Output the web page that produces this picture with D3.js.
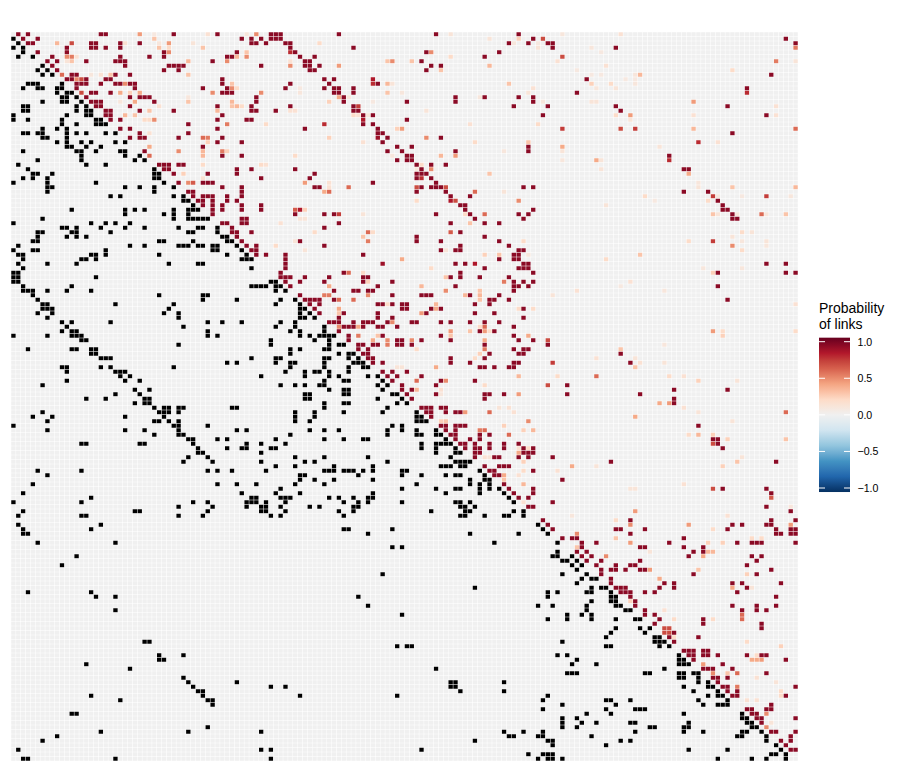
<!DOCTYPE html>
<html>
<head>
<meta charset="utf-8">
<script src="https://cdn.jsdelivr.net/npm/d3@7"></script>
<style>
  html, body { margin: 0; background: #fff; }
  text { font-family: "Liberation Sans", Arial, sans-serif; }
</style>
</head>
<body>
<div id="vis"></div>
<script>
const nodeCount = 162;
const linkProb = 0.95;

// observed links, lower triangle: [row, [columns]]
const linksTopLeft = [[1,[0]],[2,[1]],[3,[0,2]],[4,[2]],[5,[1,4]],[7,[6]],[8,[5,7]],[9,[6,8]],[11,[3,4,5,10]],[12,[2,5,6,9,10]],[13,[9,11,12]],[14,[10,11,13]],[15,[6,10,11,14]],[16,[2,3,13,15]],[17,[2,3,13,15,16]],[18,[0,11,15,16]],[19,[0,3,10,17,18]],[20,[10,13,17,18,19]],[21,[6,9,11]],[22,[2,3,5,6,11,13,15,19,21]],[23,[6,7,11]],[24,[9,11,14,16,21,23]],[25,[11,12,15,18]],[26,[2,13,14,17,22,23]],[27,[14,23,26]],[28,[5,14,25,27]],[29,[1,15,19]],[30,[3,29]],[31,[4,5,8,29,30]],[32,[2,4,7,29,30]],[33,[0,7,17,31]],[34,[7,8,23,26,29,33]],[35,[7,29]],[36,[20,22,33,35]],[37,[35,36]],[38,[37]],[39,[12,23,25,27,33,36,37,38]],[40,[23,31,33,36]],[41,[6,33,36,37,38,39,40]],[42,[0,16,19,21,24]],[43,[10,11,13,18,23,27,34,38,39,42]],[44,[5,6,12,13,20,36,37,42]],[45,[5,11,13,15,43,44]],[46,[4,5,30,31,37,44,45]],[47,[1,24,27,34,35,36,38,39,41,42,46]],[48,[0,4,5,19,41,42,47]],[49,[1,2,16,17,19,30,44,48]],[50,[2,14,15,17,47,48,49]],[51,[1,7,13,32,38,39]],[52,[2,49]],[53,[0,1]]];
const linksMidLeft = [[54,[0,1,17]],[55,[0,1,53]],[56,[2,12,49,50,51,52]],[57,[2,3,4,7,11,16]],[58,[4,30,39,40]],[59,[5,39,46]],[60,[6,7,21,33]],[61,[6,7,8,32]],[62,[5,8,31,34]],[63,[7,34]],[64,[10,12,20,40,43,47]],[65,[11,35]],[66,[10,12,13,40]],[67,[0,7,12,13,14,40,42]],[68,[14,15,53]],[69,[34,53]],[70,[3,12,13,16,17]],[71,[16,17]],[72,[18,19,20,49]],[73,[44,46]],[74,[10,11,18,20,33]],[75,[11,21,22,23]],[76,[22,24,51]],[77,[11,23,26]],[78,[6]],[79,[25,28]],[80,[21,26]],[81,[15,19,27,28]],[82,[25,27,28]],[83,[29,31,32,34,35,45,46]],[84,[6,30,31,32,34]],[85,[4,8,23,31]],[86,[7,29,30,32,34]],[87,[0,33,34,40]],[88,[7,23,27,34,46,48]],[89,[29,34,35]],[90,[36,37,42,44]],[91,[14,15,26,27,37,48,51]],[92,[38,44,47,48,53]],[93,[38,39,51]],[94,[36,40]],[95,[35,41,51]],[97,[5,14,40,42,45,52]],[98,[7]],[100,[4,42,46,50]],[102,[2,47]],[103,[16,49,50]],[104,[0,14,37,40,48,49,50,52]],[105,[34,41,48,51,52]],[106,[2,25,26,40,51,52]],[107,[1,14,15,34,39,53]]];
const linksMidCentre = [[55,[54]],[56,[54,55]],[57,[54,56]],[59,[55,58]],[60,[54,59]],[61,[59,60]],[62,[59,61]],[63,[59,60,62]],[64,[55,58]],[65,[54,58,64]],[66,[57,59,64]],[67,[59,61,63,64,65,66]],[68,[62,65]],[69,[65,67,68]],[70,[57,59,64,65]],[71,[57,67,69,70]],[72,[54,55,64,65,69,71]],[73,[54,57,58,64,70,71,72]],[74,[57,64,69,72,73]],[75,[56,60,62,63,65,69]],[76,[60,65,67,73,75]],[77,[64,68,69,76]],[78,[55,58,60,63,64,75,77]],[79,[65,68,69,76]],[80,[60,61,68,69,78,79]],[81,[60,61,75,80]],[82,[64,68,69,79,81]],[83,[64,77]],[84,[58,62,68,76,83]],[85,[58,62,83,84]],[86,[58,61,83,84,85]],[87,[78,80]],[88,[61,64,67,77,80,83,87]],[89,[57,77,83,84,87,88]],[90,[54,64,68,72,73,89]],[91,[56,84,87,88,89,90]],[92,[54,84,87,91]],[93,[87,91,92]],[94,[58,64,73,90]],[95,[60,62,77,91,92,93,94]],[96,[54,58,66,74,88,89,90,92,93]],[97,[64,65,66,68,69,70,72,74,80,81,96]],[98,[59,60,71,80,84,89,91,92,97]],[99,[59,62,66,74,94,97,98]],[100,[58,64,83,94,96,98]],[101,[55,80,87,91,92,96,98,100]],[102,[54,59,74,89,96,101]],[103,[55,56,57,65,67,70,73,74,102]],[104,[56,68,71,73,80,91,92,94,103]],[105,[55,61,63,70,71,92,93,95]],[106,[56,67,70,86,93,94,103,105]],[107,[55,68,92,93,97,101,102,105]]];
const linksLowLeft = [[109,[1,18]],[110,[2,16]],[111,[2,3]],[113,[5,21]],[116,[13]],[118,[10]],[124,[3,16]],[125,[17,21]],[128,[21]],[135,[27,28]],[138,[30,35]],[139,[30,31]],[140,[15]],[141,[24]],[143,[35]],[144,[36,46]],[145,[37,53]],[146,[38,39]],[147,[16,39]],[148,[22,40,41]],[149,[41]],[151,[12,13]],[154,[40]],[155,[18,36,51]],[156,[9]],[157,[6]],[159,[1,51,53]],[161,[2,3,21,53]]];
const linksLowCentre = [[110,[68,69,78]],[111,[73,94,104]],[113,[99]],[114,[78,80]],[120,[76]],[123,[95]],[125,[71]],[127,[73]],[129,[80]],[136,[79,81,82]],[141,[87]],[144,[90,91,101]],[145,[56,90,91]],[146,[92,101]],[147,[59,79]],[155,[101,105]],[156,[102,103]],[157,[95]],[159,[84]],[160,[106]]];
const linksLowRight = [[109,[108]],[110,[109]],[111,[110]],[113,[112]],[115,[112]],[116,[111,112,115]],[117,[113,114,116]],[118,[115,117]],[119,[116]],[120,[113,118]],[121,[117,119,120]],[122,[116]],[123,[119,121,122]],[124,[110,112,118,119,123]],[125,[110,123,124]],[126,[119,123,124]],[127,[108,111,118,124,125]],[128,[118,126,127]],[129,[114,117,119]],[130,[110,114,119,124,128,129]],[132,[124,129,131]],[133,[123,130]],[134,[122,132,133]],[135,[113,132,133,134]],[136,[122,123,133,135]],[138,[112,114,137]],[139,[116,137,138]],[140,[115,120,137,138,139]],[141,[134]],[142,[114,115,116,130,131,137,138,140,141]],[143,[137,138,141]],[144,[141,143]],[145,[138,143,144]],[146,[140,145]],[147,[110,143,145,146]],[148,[109,122,123,127,141,147]],[149,[113,124,142,145,146,147]],[150,[109,122,128,129,130]],[151,[118,123,138,150]],[152,[113,116,150,151]],[153,[113,117,120,127,128,139,151,152]],[154,[113,116,131,132,138,139,152,153]],[155,[109,128,138,142,150,151,154]],[156,[108,109,119,149,150,155]],[157,[110,111,125,127,155]],[158,[111,122,157]],[159,[139,147,158]],[160,[109,110,111,156,157,159]],[161,[108,110,111,113,145,152,155,159]]];

// estimated probabilities, upper triangle: [row, column, probability]
const probTopLeft = [[0,26,.45],[0,29,.08],[0,40,.15],[0,48,.1],[0,50,.5],[1,29,.3],[2,9,.35],[2,12,.7],[2,23,.15],[2,30,.1],[2,32,.45],[2,37,.12],[3,30,.3],[3,32,.2],[3,39,.3],[4,32,.5],[4,48,.3],[5,11,.5],[5,12,.55],[5,13,.15],[5,48,.5],[5,46,.35],[6,11,.12],[6,12,.3],[6,36,.35],[6,44,.5],[9,10,.6],[9,16,.1],[9,18,.15],[9,20,.3],[9,36,.3],[10,13,.5],[10,14,.7],[11,23,.5],[11,45,.3],[12,45,.5],[12,46,.2],[13,14,.7],[13,22,.4],[13,24,.25],[13,26,.4],[13,41,.5],[13,51,.5],[14,36,.1],[15,25,.4],[15,22,.1],[15,36,.3],[15,45,.35],[16,30,.15],[16,45,.3],[16,46,.35],[16,47,.2],[17,28,.3],[17,42,.35],[18,23,.35],[18,25,.3],[19,27,.2],[19,28,.2],[19,29,.5],[20,44,.55],[20,52,.2],[22,28,.15],[23,39,.6],[23,40,.55],[24,40,.25],[25,28,.4],[26,34,.5],[26,39,.35],[26,43,.55],[26,44,.25],[27,28,.6],[27,39,.35],[29,39,.2],[29,51,.2],[29,52,.15],[31,35,.25],[32,39,.15],[33,36,.5],[33,37,.65]];
const probTopCentre = [[0,90,.12],[1,104,.25],[1,98,.12],[2,63,.2],[2,103,.1],[4,86,.5],[4,57,.8],[5,90,.2],[6,77,.3],[6,78,.5],[6,82,.3],[6,57,.15],[7,57,.5],[7,67,.45],[7,98,.35],[8,88,.3],[10,74,.85],[11,74,.8],[11,77,.35],[11,78,.12],[11,102,.3],[12,59,.08],[12,107,.15],[13,77,.3],[13,80,.1],[13,59,.1],[13,106,.12],[14,67,.4],[14,69,.1],[14,96,.1],[15,65,.25],[15,74,.08],[16,71,.75],[17,57,.15],[17,58,.15],[17,85,.12],[18,70,.2],[18,71,.15],[18,73,.1],[19,72,.85],[20,64,.8],[20,94,.15],[21,79,.25],[21,80,.45],[23,75,.9],[23,65,.25],[23,85,.5],[24,72,.15],[24,95,.2],[24,106,.3],[26,101,.1],[27,58,.2],[27,78,.1],[27,88,.35],[27,91,.45],[29,84,.2],[30,83,.1],[30,86,.5],[31,98,.3],[32,84,.8],[33,60,.45],[33,65,.15],[34,65,.15],[34,69,.6],[34,83,.7],[34,89,.7],[35,64,.4],[35,65,.6],[35,101,.12],[35,95,.6],[37,83,.2],[37,90,.85],[37,91,.7],[37,104,.5],[39,58,.65],[39,59,.85],[39,60,.25],[40,67,.75],[40,72,.12],[40,93,.2],[40,97,.6],[41,59,.12],[41,60,.12],[42,55,.15],[42,94,.3],[44,62,.2],[44,73,.6],[44,74,.2],[44,90,.65],[45,72,.3],[46,58,.12],[46,73,.55],[46,105,.2],[47,54,.2],[48,60,.12],[48,89,.12],[49,97,.25],[49,100,.3],[49,106,.1],[50,80,.4],[51,76,.9],[51,95,.85],[52,86,.2],[53,68,.95],[53,69,.6],[53,72,.2]];
const probTopRight = [[1,109,.7],[5,113,.7],[24,141,.8],[36,144,.75],[36,155,.75],[28,135,.8],[40,154,.6],[46,144,.75],[21,113,.75],[21,125,.7],[21,128,.75],[21,161,.6],[13,151,.8],[3,161,.55],[0,113,.1],[0,125,.15],[2,108,.08],[3,108,.12],[3,119,.1],[4,121,.08],[6,112,.15],[6,157,.55],[6,161,.12],[7,122,.15],[8,148,.2],[8,116,.08],[9,129,.35],[9,128,.1],[9,119,.08],[9,121,.08],[10,128,.08],[10,126,.08],[11,119,.25],[11,123,.2],[11,128,.1],[12,120,.1],[12,124,.12],[15,140,.45],[15,119,.12],[15,120,.12],[15,109,.1],[16,157,.15],[18,124,.2],[18,127,.45],[18,140,.15],[18,157,.15],[19,127,.12],[20,108,.2],[21,140,.35],[25,113,.4],[26,113,.12],[25,133,.12],[24,145,.15],[28,113,.1],[28,120,.4],[28,121,.12],[30,121,.12],[31,139,.4],[33,141,.1],[34,141,.12],[34,148,.3],[34,161,.35],[36,130,.2],[36,145,.08],[36,150,.08],[36,160,.1],[37,143,.2],[37,132,.08],[38,122,.12],[40,144,.3],[40,145,.12],[40,149,.1],[40,159,.3],[40,155,.1],[44,150,.2],[44,152,.12],[45,148,.12],[46,139,.2],[46,150,.1],[46,155,.12],[47,155,.1],[47,148,.5],[48,150,.2],[49,129,.3],[50,122,.2],[52,142,.1],[52,150,.1],[53,144,.25]];
const probMidCentre = [[54,89,.3],[55,73,.25],[55,101,.55],[56,65,.4],[56,84,.35],[57,89,.5],[57,96,.3],[58,64,.55],[58,65,.55],[58,73,.5],[58,93,.35],[58,96,.35],[59,67,.6],[59,70,.6],[59,96,.3],[60,87,.35],[60,77,.2],[61,67,.4],[61,87,.4],[61,104,.2],[61,107,.2],[62,67,.3],[62,84,.45],[64,78,.5],[65,67,.5],[65,71,.4],[65,97,.6],[65,96,.2],[66,90,.45],[66,94,.3],[66,97,.45],[66,98,.2],[67,71,.55],[67,75,.3],[67,90,.3],[67,106,.4],[68,74,.4],[68,77,.5],[68,82,.5],[68,97,.4],[69,77,.55],[70,83,.2],[70,97,.55],[71,96,.25],[72,95,.2],[74,87,.4],[74,79,.12],[74,80,.12],[76,104,.35],[77,89,.5],[77,83,.6],[78,97,.2],[79,83,.35],[79,88,.15],[80,88,.1],[80,104,.45],[83,100,.12],[83,102,.15],[84,93,.45],[84,103,.15],[84,98,.6],[86,89,.3],[86,88,.25],[86,106,.5],[87,101,.25],[88,96,.55],[88,97,.6],[88,105,.25],[88,107,.35],[89,102,.6],[92,104,.15],[92,106,.2],[93,104,.4],[94,97,.15],[94,98,.12],[95,105,.25],[97,105,.2],[98,101,.4],[98,104,.15],[99,101,.3],[100,105,.35],[104,105,.15]];
const probMidRight = [[55,127,.15],[57,116,.15],[57,134,.1],[56,125,.08],[58,111,.12],[60,161,.15],[66,144,.45],[66,146,.2],[66,161,.2],[67,146,.25],[68,110,.7],[69,134,.1],[70,125,.3],[72,128,.12],[72,120,.15],[73,129,.15],[73,134,.12],[73,111,.75],[74,128,.3],[76,120,.6],[76,112,.2],[76,135,.2],[76,138,.15],[77,141,.25],[77,149,.12],[78,110,.7],[82,133,.4],[82,135,.45],[83,138,.15],[84,141,.12],[84,159,.6],[85,128,.4],[86,148,.12],[89,139,.2],[89,141,.35],[89,144,.25],[90,147,.25],[90,159,.3],[91,144,.7],[94,150,.12],[95,149,.3],[96,115,.4],[96,120,.12],[96,146,.25],[97,112,.15],[100,138,.15],[101,144,.7],[101,127,.12],[101,128,.12],[103,156,.65],[105,160,.1],[106,128,.45],[107,115,.1],[107,147,.15]];
const probLowRight = [[108,124,.2],[109,127,.5],[109,139,.45],[109,160,.45],[110,144,.2],[111,116,.5],[112,124,.3],[112,152,.2],[112,154,.2],[113,127,.45],[113,143,.25],[113,146,.25],[114,116,.3],[115,131,.12],[115,143,.35],[115,144,.35],[116,142,.4],[116,122,.5],[119,131,.45],[119,141,.3],[120,151,.25],[121,133,.4],[123,148,.4],[123,152,.12],[126,127,.25],[128,134,.15],[130,136,.2],[130,144,.2],[130,150,.6],[129,150,.6],[133,134,.7],[133,135,.7],[132,134,.7],[132,135,.7],[134,136,.2],[135,151,.2],[136,158,.25],[139,152,.4],[139,153,.4],[139,154,.45],[138,153,.2],[140,142,.45],[142,147,.3],[142,149,.6],[142,144,.5],[143,153,.15],[144,157,.12],[145,149,.55],[146,158,.2],[147,158,.2],[148,153,.15],[148,151,.15],[151,155,.5],[154,155,.5],[153,156,.12]];

const links = [linksTopLeft, linksMidLeft, linksMidCentre, linksLowLeft, linksLowCentre, linksLowRight]
    .flat().flatMap(([row, cols]) => cols.map(col => [row, col]));
const probs = [probTopLeft, probTopCentre, probTopRight, probMidCentre, probMidRight, probLowRight].flat();

const width = 900;
const height = 771;

//creating SVG
const svg = d3.select("#vis").append("svg")
    .attr("width", width)
    .attr("height", height)
    .style("display", "block");

//creating scales
const nodes = d3.range(nodeCount);
const xScale = d3.scaleBand().domain(nodes).range([11, 798]);
const yScale = d3.scaleBand().domain(nodes).range([32, 761]);

const rampColors = ["#053061", "#2166ac", "#4393c3", "#92c5de", "#d1e5f0", "#f0f0f0", "#fddbc7", "#f4a582", "#d6604d", "#b2182b", "#67001f"];
const rampDomain = d3.range(11).map(i => -1.05 + i * 0.21);
const fillScale = d3.scaleLinear().domain(rampDomain).range(rampColors).interpolate(d3.interpolateLab);

//filling in the matrix
const key = (r, c) => r * nodeCount + c;
const blackCells = new Set(links.map(([r, c]) => key(r, c)));
const probCells = new Map(links.map(([r, c]) => [key(c, r), linkProb]));
probs.forEach(([r, c, p]) => probCells.set(key(r, c), p));

const gap = 0.5;
svg.append("g").selectAll("rect")
    .data(d3.cross(nodes, nodes))
    .join("rect")
    .attr("x", d => xScale(d[1]) + gap / 2)
    .attr("y", d => yScale(d[0]) + gap / 2)
    .attr("width", xScale.bandwidth() - gap)
    .attr("height", yScale.bandwidth() - gap)
    .attr("fill", d => {
        const k = key(d[0], d[1]);
        if (blackCells.has(k)) return "#000";
        return fillScale(probCells.get(k) || 0);
    });

//legend
const legendX = 819;
const legendW = 31;
const legendScale = d3.scaleLinear().domain([-1, 1]).range([488, 341.7]);
const legendTicks = [-1, -0.5, 0, 0.5, 1];

const gradient = svg.append("defs").append("linearGradient")
    .attr("id", "ramp")
    .attr("x1", 0).attr("x2", 0).attr("y1", 1).attr("y2", 0);
gradient.selectAll("stop")
    .data(d3.range(0, 21))
    .join("stop")
    .attr("offset", d => d / 20)
    .attr("stop-color", d => fillScale(-1.05 + d * 0.105));

svg.append("rect")
    .attr("x", legendX)
    .attr("y", legendScale(1.055))
    .attr("width", legendW)
    .attr("height", legendScale(-1.055) - legendScale(1.055))
    .attr("fill", "url(#ramp)");

const tickGroup = svg.append("g");
[[legendX, legendX + 6], [legendX + legendW - 6, legendX + legendW]].forEach(([a, b]) => {
    tickGroup.selectAll(null)
        .data(legendTicks)
        .join("line")
        .attr("x1", a).attr("x2", b)
        .attr("y1", d => legendScale(d))
        .attr("y2", d => legendScale(d))
        .attr("stroke", "#fff")
        .attr("stroke-width", 1);
});

const legendAxis = svg.append("g")
    .attr("transform", "translate(" + (legendX + legendW) + ",0)")
    .call(d3.axisRight(legendScale).tickValues(legendTicks).tickFormat(d3.format(".1f")).tickSize(0).tickPadding(7.5));
legendAxis.select(".domain").remove();
legendAxis.selectAll("text")
    .attr("font-family", "Liberation Sans")
    .attr("font-size", 10.6)
    .attr("fill", "#000");

svg.selectAll(".legend-title")
    .data(["Probability", "of links"])
    .join("text")
    .attr("class", "legend-title")
    .attr("x", legendX)
    .attr("y", (d, i) => 313 + i * 15.5)
    .attr("font-size", 14)
    .attr("fill", "#000")
    .text(d => d);
</script>
</body>
</html>
